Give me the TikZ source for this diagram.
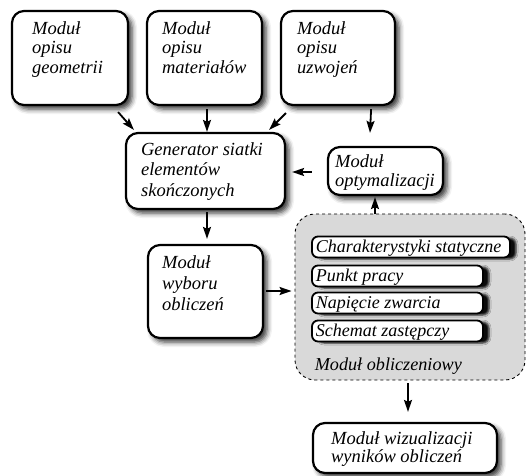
\documentclass[tikz,border=0pt]{standalone}
\usepackage{fontspec}
\setmainfont{Liberation Serif}
\usetikzlibrary{arrows.meta,shadows.blur,calc}
\begin{document}
\begin{tikzpicture}[x=1pt,y=-1pt,
  box/.style={draw,line width=2.2pt,rounded corners=12pt,fill=white,inner sep=0pt,
    blur shadow={shadow xshift=4pt,shadow yshift=-4pt,shadow blur radius=5pt,shadow opacity=80}},
  inbox/.style={draw,line width=1.8pt,rounded corners=6pt,fill=white,inner sep=0pt,minimum height=21pt,
    blur shadow={shadow xshift=6pt,shadow yshift=-1.5pt,shadow blur radius=2pt,shadow opacity=95}},
  intxt/.style={anchor=base west,inner sep=0pt,font=\itshape\fontsize{18}{19}\selectfont},
  calcbox/.style={draw,dashed,line width=0.9pt,rounded corners=20pt,fill=black!15,inner sep=0pt},
  txt/.style={anchor=north west,align=left,inner sep=0pt,font=\itshape\fontsize{18.5}{19.5}\selectfont},
  arr/.style={line width=1.8pt,-{Stealth[length=12pt,width=8pt,inset=2pt]}}]
\useasboundingbox (0,0) rectangle (530,476);

% top boxes
\node[box,minimum width=116pt,minimum height=94pt] (b1) at (70,58) {};
\node[box,minimum width=115pt,minimum height=94pt] (b2) at (204.5,58) {};
\node[box,minimum width=114pt,minimum height=94pt] (b3) at (338,58) {};
\node[txt] (t1) at ($(b1.north west)+(21,11.4)$) {Moduł\\opisu\\geometrii};
\node[txt] (t2) at ($(b2.north west)+(16,11.4)$) {Moduł\\opisu\\materiałów};
\node[txt] (t3) at ($(b3.north west)+(17,11.4)$) {Moduł\\opisu\\uzwojeń};

% generator
\node[box,minimum width=159pt,minimum height=76pt] (gen) at (205.5,171) {};
\node[txt,font=\itshape\fontsize{18.5}{20.5}\selectfont] (tg) at ($(gen.north west)+(16,10.4)$) {Generator siatki\\elementów\\skończonych};

% optymalizacja
\node[box,minimum width=115pt,minimum height=48pt] (opt) at (385.5,171) {};
\node[txt] (to) at ($(opt.north west)+(8,8.4)$) {Moduł\\optymalizacji};

% wybor
\node[box,minimum width=115pt,minimum height=93pt] (wyb) at (205.5,291.5) {};
\node[txt,font=\itshape\fontsize{18.5}{21}\selectfont] (tw) at ($(wyb.north west)+(15,11.4)$) {Moduł\\wyboru\\obliczeń};

% calc module
\node[calcbox,minimum width=230pt,minimum height=166pt] (calc) at (410,297) {};
\node[inbox,minimum width=198pt] (i1) at (411,247) {};
\node[inbox,minimum width=171pt] (i2) at (397.5,276) {};
\node[inbox,minimum width=171pt] (i3) at (397.5,303) {};
\node[inbox,minimum width=171pt] (i4) at (397.5,331) {};
\node[intxt] (l1) at ($(i1.south west)+(4.5,-6)$) {Charakterystyki statyczne};
\node[intxt] (l2) at ($(i2.south west)+(4.5,-6)$) {Punkt pracy};
\node[intxt] (l3) at ($(i3.south west)+(4.5,-6)$) {Napięcie zwarcia};
\node[intxt] (l4) at ($(i4.south west)+(4.5,-6)$) {Schemat zastępczy};
\node[anchor=base west,inner sep=0pt,font=\itshape\fontsize{18.2}{19}\selectfont] (tc) at ($(calc.south west)+(20,-10)$) {Moduł obliczeniowy};

% wizualizacja
\node[box,minimum width=184pt,minimum height=50pt] (wiz) at (405,448) {};
\node[txt,font=\itshape\fontsize{18.5}{18.5}\selectfont] (tz) at ($(wiz.north west)+(19,9.4)$) {Moduł wizualizacji\\wyników obliczeń};

% arrows
\draw[arr] ($(b1.south east)+(-11,6)$) -- ($(gen.north west)+(9,-2)$);
\draw[arr] ($(b2.south)+(2.5,3)$) -- ($(gen.north)+(1.5,0)$);
\draw[arr] ($(b3.south west)+(6,7)$) -- ($(gen.north east)+(-17,-2)$);
\draw[arr] ($(b3.south east)+(-25,3)$) -- ($(opt.north)+(-15.5,-13)$);
\draw[arr] ($(opt.west)+(-15,1)$) -- ($(gen.east)+(6,1)$);
\draw[arr] ($(calc.north)+(-35,0)$) -- ($(opt.south)+(-10.5,1)$);
\draw[arr] ($(gen.south)+(1.5,2)$) -- ($(wyb.north)+(1.5,-5)$);
\draw[arr] ($(wyb.east)+(2,-0.5)$) -- ($(calc.west)+(-3,-6)$);
\draw[arr] ($(calc.south)+(-2,3)$) -- ($(wiz.north)+(3,-10)$);
\end{tikzpicture}
\end{document}
